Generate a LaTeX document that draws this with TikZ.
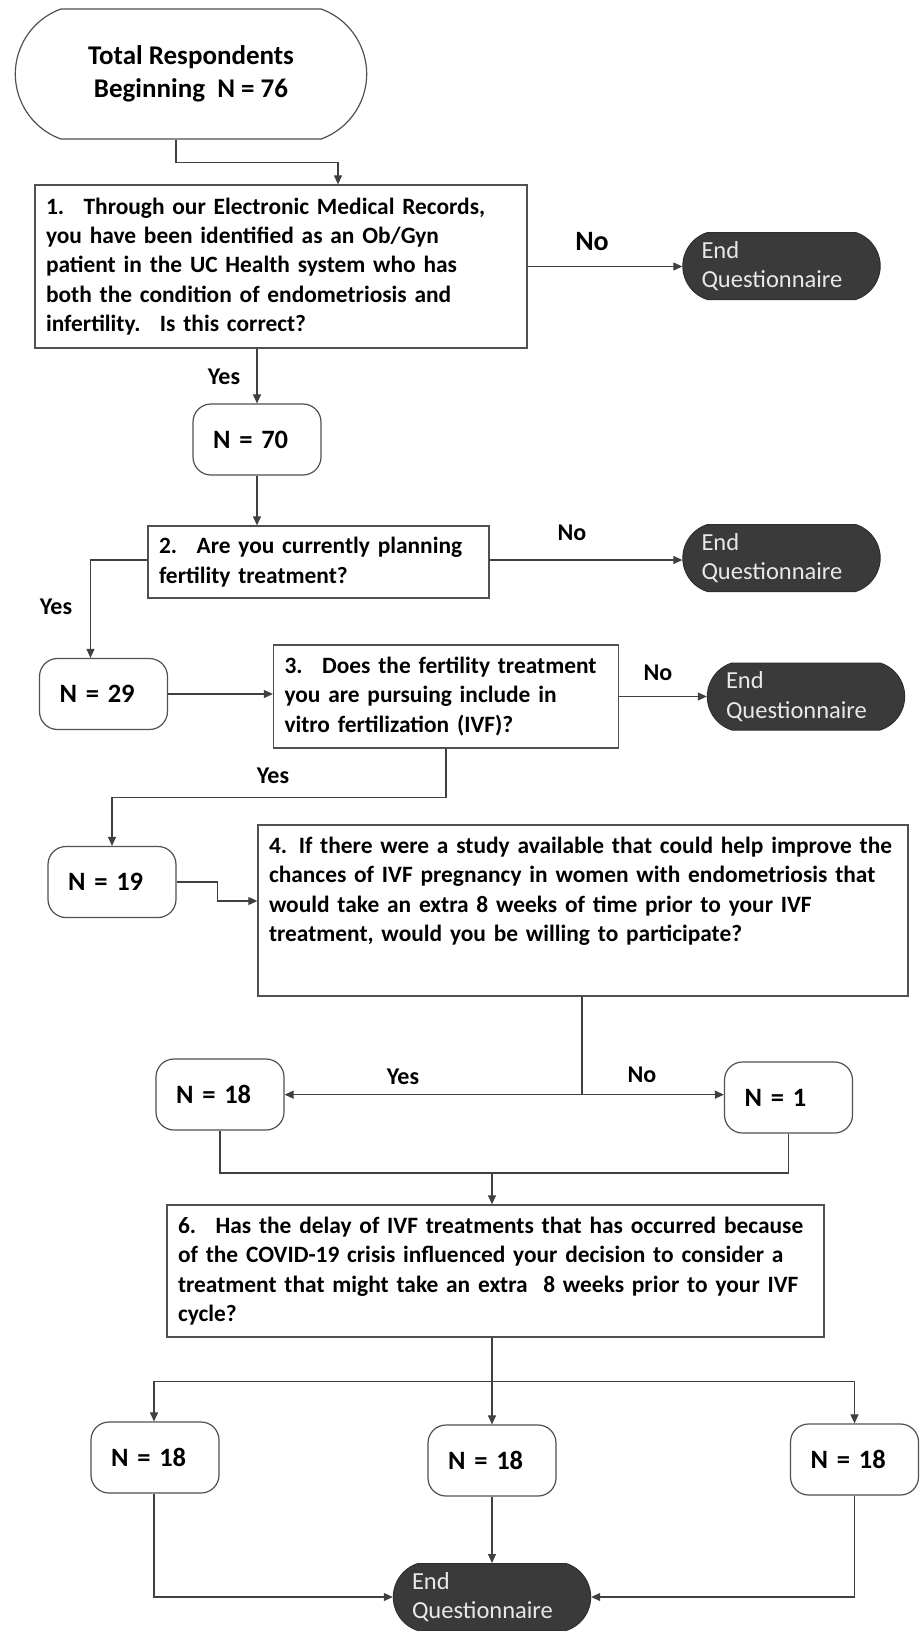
\documentclass[tikz,border=0pt]{standalone}
\usepackage{fontspec}
\setmainfont{Carlito}
\usepackage{xcolor}
\definecolor{linegray}{RGB}{64,64,64}
\definecolor{boxborder}{RGB}{80,80,80}
\definecolor{endfill}{RGB}{58,58,58}
\definecolor{endtext}{RGB}{232,232,232}
\usetikzlibrary{calc}
\usetikzlibrary{positioning}
\usetikzlibrary{arrows.meta}
\usetikzlibrary{shapes.misc}

\begin{document}
\begin{tikzpicture}[x=1pt,y=1pt,
      q style/.style={rectangle,draw=boxborder,line width=1.3pt,inner xsep=11pt,
        inner ysep=3pt,align=left,font=\fontsize{23.4}{29.3}\selectfont\bfseries},
      n style/.style={rectangle,rounded corners=18pt,draw=boxborder,line width=1.2pt,
        inner xsep=20pt,text width=88pt,align=left,minimum height=71pt,
        font=\fontsize{26.5}{30}\selectfont\bfseries},
      end style/.style={rounded rectangle,rounded rectangle arc length=145,fill=endfill,
        draw=endfill!80!black,line width=1pt,text=endtext,align=left,text width=160pt,
        minimum width=204pt,minimum height=67pt,font=\fontsize{24.5}{29.3}\selectfont},
      start style/.style={rounded rectangle,rounded rectangle arc length=140,draw=boxborder,
        line width=1.2pt,align=center,minimum width=358pt,minimum height=130pt,
        font=\fontsize{27}{33}\selectfont\bfseries},
      lbl style/.style={inner sep=0pt,font=\fontsize{24}{29.3}\selectfont\bfseries},
      arr style/.style={draw=linegray,line width=1.1pt,-{Triangle[length=9pt,width=8pt]}},
      line style/.style={draw=linegray,line width=1.1pt}
      ]
      \useasboundingbox (0,0) rectangle (920,-1631);

      % start and first question
      \node[start style] (start) at (191,-74) {Total Respondents\\Beginning~ N = 76};
      \node[q style,text width=470pt,minimum height=163pt] (q1) at (281,-266.5)
        {1.~ Through our Electronic Medical Records,\\you have been identified as an Ob/Gyn\\patient in the UC Health system who has\\both the condition of endometriosis and\\infertility.~ Is this correct?};
      \node[end style] (end1) at (781.5,-266) {End\\Questionnaire};
      \node[n style] (n70) at (257,-439.5) {N = 70};

      % planning treatment
      \node[q style,text width=319pt,minimum height=72pt] (q2) at (318.5,-562)
        {2.~ Are you currently planning\\fertility treatment?};
      \node[end style] (end2) at (781.5,-558) {End\\Questionnaire};
      \node[n style] (n29) at (103.5,-694) {N = 29};

      % IVF
      \node[q style,text width=323pt,minimum height=103pt] (q3) at (446,-696.5)
        {3.~ Does the fertility treatment\\you are pursuing include in\\vitro fertilization (IVF)?};
      \node[end style] (end3) at (806,-696.5) {End\\Questionnaire};
      \node[n style] (n19) at (112,-882) {N = 19};

      % study participation
      \node[q style,text width=628pt,minimum height=171pt] (q4) at (583,-910.5)
        {4. If there were a study available that could help improve the\\chances of IVF pregnancy in women with endometriosis that\\would take an extra 8 weeks of time prior to your IVF\\treatment, would you be willing to participate?\\[13pt]\mbox{}};
      \node[n style] (n18a) at (220,-1094.5) {N = 18};
      \node[n style] (n1) at (788.5,-1097.5) {N = 1};

      % covid delay
      \node[q style,text width=635pt,minimum height=132pt] (q6) at (495.5,-1271)
        {6.~ Has the delay of IVF treatments that has occurred because\\of the COVID-19 crisis influenced your decision to consider a\\treatment that might take an extra~ 8 weeks prior to your IVF\\cycle?};
      \node[n style] (n18b) at (155,-1457.5) {N = 18};
      \node[n style] (n18c) at (492,-1460.5) {N = 18};
      \node[n style] (n18d) at (854.5,-1459.5) {N = 18};
      \node[end style] (endq) at (492,-1597) {End\\Questionnaire};

      % answer labels
      \node[lbl style,font=\fontsize{28}{34}\selectfont\bfseries] (no1) at (592,-242) {No};
      \node[lbl style] (yes1) at (224,-377) {Yes};
      \node[lbl style] (no2) at (572,-533) {No};
      \node[lbl style] (yes2) at (56,-607) {Yes};
      \node[lbl style] (no3) at (658,-673) {No};
      \node[lbl style] (yes3) at (273,-776) {Yes};
      \node[lbl style] (yes4) at (403,-1077) {Yes};
      \node[lbl style] (no4) at (642,-1075) {No};

      \coordinate (q4split) at ($(q4.south)+(-1,-98)$);
      \coordinate (q6join) at (492,-1173);
      \coordinate (q6split) at ($(q6.south)+(-3.5,-44)$);

      \draw[arr style] ([xshift=-15pt]start.south) -- ++(0,-23) -| ([xshift=57pt]q1.north);
      \draw[arr style] (q1.east) -- (q1.east -| end1.west);
      \draw[arr style] ([xshift=-24pt]q1.south) -- (n70.north);
      \draw[arr style] (n70.south) -- (n70.south |- q2.north);
      \draw[arr style] ([yshift=2pt]q2.east) -- ([yshift=2pt]q2.east -| end2.west);
      \draw[arr style] ([yshift=2pt]q2.west) -| ([xshift=-13pt]n29.north);
      \draw[arr style] (n29.east) -- (n29.east -| q3.west);
      \draw[arr style] (q3.east) -- (q3.east -| end3.west);
      \draw[arr style] (q3.south) -- ++(0,-49) -| (n19.north);
      \draw[arr style] (n19.east) -- ++(41,0) |- ([yshift=9.5pt]q4.west);
      \draw[line style] ([xshift=-1pt]q4.south) -- (q4split);
      \draw[arr style] (q4split) -- (q4split -| n18a.east);
      \draw[arr style] (q4split) -- (q4split -| n1.west);
      \draw[line style] (n18a.south) |- (q6join);
      \draw[line style] (n1.south) |- (q6join);
      \draw[arr style] (q6join) -- (q6join |- q6.north);
      \draw[arr style] ([xshift=-3.5pt]q6.south) -- (n18c.north);
      \draw[arr style] (q6split) -| ([xshift=-1pt]n18b.north);
      \draw[arr style] (q6split) -| (n18d.north);
      \draw[arr style] (n18c.south) -- (endq.north);
      \draw[arr style] ([xshift=-1pt]n18b.south) |- (endq.west);
      \draw[arr style] (n18d.south) |- (endq.east);
\end{tikzpicture}
\end{document}
